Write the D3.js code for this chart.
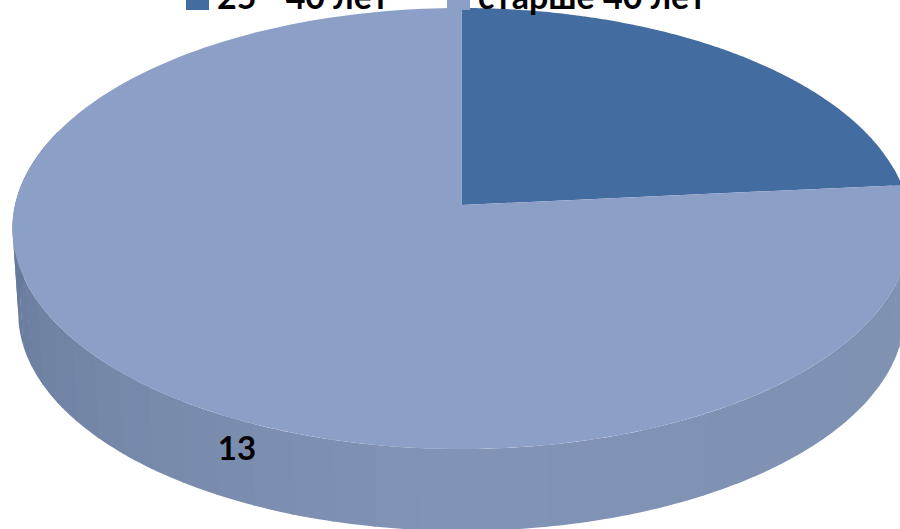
<!DOCTYPE html>
<html><head><meta charset="utf-8">
<script src="https://cdn.jsdelivr.net/npm/d3@7"></script>
<style>html,body{margin:0;padding:0;background:#fff}svg{display:block}</style>
</head><body><svg id="c" width="900" height="529"></svg>
<script>
const categories = ["25 - 40 лет", "старше 40 лет"];
const values = [4, 13];
const colors = ["#436ca0", "#8c9fc6"];
const shownLabels = [null, "13"];
const wallAngles = [90, 135, 180, 225, 270];
const wallShades = ["#7f92b1", "#8092b3", "#8294b6", "#7688a8", "#66789a"];

const W = 900, H = 529;
const svg = d3.select("#c");
const apex = {x: 461.5, y: 205}, a = 446.5, b = 218, k = 0.1066;
const depth = 85, shrink = 0.987;

function project(theta, lower) {
  const u = Math.sin(theta), v = Math.cos(theta), w = 1 + k * v;
  const s = lower ? shrink : 1;
  return [apex.x + s * a * u / w, apex.y - s * b * v / w + (lower ? depth : 0)];
}
const line = d3.line();
const arcs = d3.pie().sort(null).value(d => d)(values);
const shade = d3.scaleLinear().domain(wallAngles).range(wallShades);

// wall facets, drawn from the front rim of the last slice
const step = 5;
d3.range(80, 290, step).forEach(deg => {
  const t0 = deg * Math.PI / 180, t1 = (deg + step + 0.3) * Math.PI / 180;
  const pts = [];
  d3.range(6).forEach(j => pts.push(project(t0 + (t1 - t0) * j / 5)));
  d3.range(5, -1, -1).forEach(j => pts.push(project(t0 + (t1 - t0) * j / 5, true)));
  svg.append("path").attr("d", line(pts) + "Z").attr("fill", shade(deg));
});

// top faces
arcs.forEach((d, i) => {
  const n = 200;
  const pts = [[apex.x, apex.y]];
  d3.range(n + 1).forEach(j => pts.push(project(d.startAngle + (d.endAngle - d.startAngle) * j / n)));
  svg.append("path").attr("d", line(pts) + "Z").attr("fill", colors[i]);
});

// data label
svg.append("text").attr("x", 237).attr("y", 460).attr("text-anchor", "middle")
  .attr("font-family", "Lato").attr("font-weight", 700).attr("font-size", 33).attr("fill", "#000")
  .text(shownLabels[1]);

// legend
const legendX = d3.scaleOrdinal().domain(categories).range([186, 447]);
categories.forEach((c, i) => {
  svg.append("rect").attr("x", legendX(c)).attr("y", -13).attr("width", 23).attr("height", 23).attr("fill", colors[i]);
  svg.append("text").attr("x", legendX(c) + 31).attr("y", 9)
    .attr("font-family", "Lato").attr("font-weight", 700).attr("font-size", 34).attr("fill", "#000")
    .text(c);
});
</script></body></html>
